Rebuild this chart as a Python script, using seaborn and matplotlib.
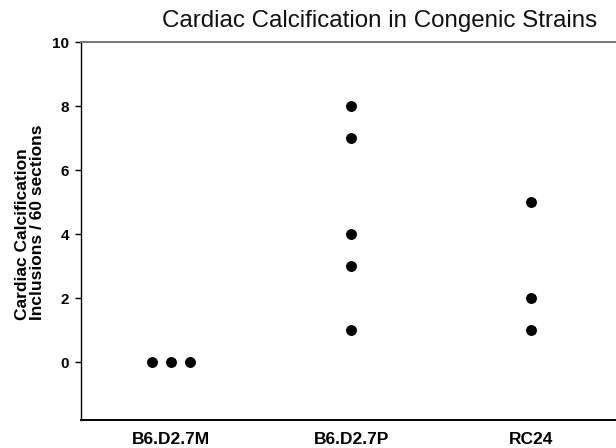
import matplotlib
matplotlib.use("Agg")
import matplotlib.pyplot as plt
import seaborn as sns
import pandas as pd

strains = ["B6.D2.7M", "B6.D2.7P", "RC24"]
m_values = [0, 0, 0]
p_values = [8, 7, 4, 3, 1]
rc_values = [5, 2, 1]
y_ticks = [0, 2, 4, 6, 8, 10]

df = pd.DataFrame({
    "strain": [strains[0]] * len(m_values) + [strains[1]] * len(p_values) + [strains[2]] * len(rc_values),
    "count": m_values + p_values + rc_values,
})

sns.set_style("white")
plt.rcParams["font.family"] = ["Liberation Sans", "DejaVu Sans"]
plt.rcParams["text.color"] = "black"
plt.rcParams["axes.labelcolor"] = "black"
plt.rcParams["xtick.color"] = "black"
plt.rcParams["ytick.color"] = "black"

fig = plt.figure(figsize=(6.16, 4.48), dpi=100)
ax = fig.add_axes([81 / 616, 1 - 420 / 448, 1 - 81 / 616, (420 - 42) / 448])

sns.swarmplot(data=df, x="strain", y="count", order=strains, color="black",
              size=10.4, linewidth=2.5, edgecolor="white", ax=ax)

ax.set_xlim(-0.5, 2.47)
ax.set_ylim(-1.8, 10)
ax.set_yticks(y_ticks)
ax.set_yticklabels([str(v) for v in y_ticks], fontsize=11, fontweight="bold")
ax.set_xticks(range(len(strains)))
ax.set_xticklabels(strains, fontsize=12.5, fontweight="bold")
ax.tick_params(axis="y", which="both", left=True, length=4.5, width=1, pad=4, color="black")
ax.tick_params(axis="x", bottom=False, pad=5)
ax.set_xlabel("")
ax.set_ylabel("Cardiac Calcification\nInclusions / 60 sections", fontsize=12.5, fontweight="bold",
              linespacing=1.05, multialignment="left", color="black")
ax.yaxis.set_label_coords(-0.067, 0.524)

ax.spines["right"].set_visible(False)
ax.spines["top"].set_color("#777777")
ax.spines["top"].set_linewidth(1.4)
ax.spines["bottom"].set_color("black")
ax.spines["bottom"].set_linewidth(1.4)
ax.spines["left"].set_color("black")
ax.spines["left"].set_linewidth(1.0)

fig.text(380 / 616, 1 - 27 / 448, "Cardiac Calcification in Congenic Strains",
         ha="center", va="baseline", fontsize=17.4, color="#111111")

fig.savefig("out.png", dpi=100)
